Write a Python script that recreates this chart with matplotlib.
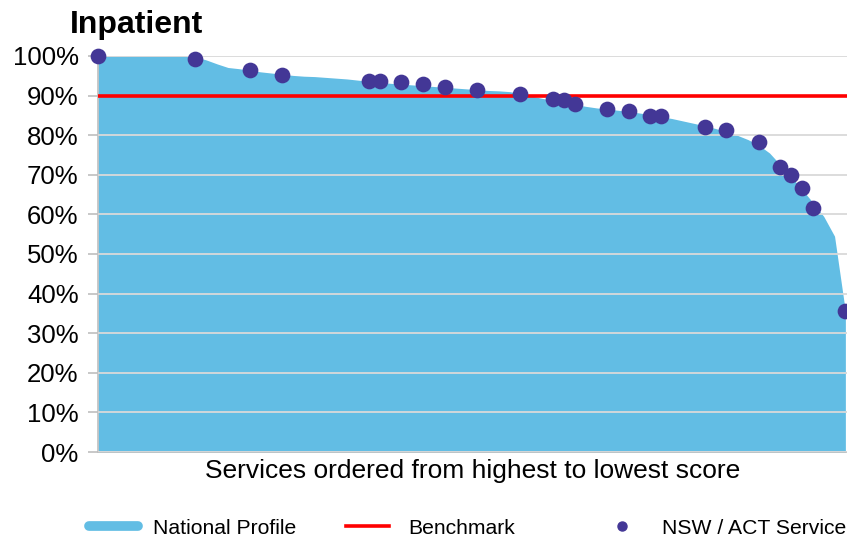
import matplotlib.pyplot as plt
from matplotlib.lines import Line2D
from matplotlib.ticker import PercentFormatter

plt.rcParams["font.family"] = ["Liberation Sans", "DejaVu Sans"]

# national profile: every service's score, ordered from highest to lowest
national_profile = [
    100.0, 100.0, 100.0, 100.0, 100.0, 100.0, 100.0, 100.0, 100.0, 99.8,
    99.0, 98.0, 97.1, 96.8, 96.4, 96.0, 95.7, 95.4, 95.1, 94.9,
    94.8, 94.6, 94.4, 94.2, 93.9, 93.6, 93.4, 93.1, 92.9, 92.7,
    92.5, 92.3, 92.1, 91.9, 91.7, 91.5, 91.3, 91.2, 91.0, 90.5,
    89.9, 89.3, 88.8, 88.3, 87.8, 87.3, 86.9, 86.6, 86.3, 86.0,
    85.6, 85.2, 84.7, 84.2, 83.6, 83.0, 82.4, 81.7, 80.9, 80.0,
    78.9, 77.5, 75.5, 72.5, 69.5, 66.3, 63.0, 59.5, 54.5, 35.5,
]

# NSW / ACT services: rank within the national profile and score
nsw_rank = [0, 9, 14, 17, 25, 26, 28, 30, 32, 35, 39, 42, 43, 44, 47, 49, 51,
            52, 56, 58, 61, 63, 64, 65, 66, 69]
nsw_score = [100.0, 99.2, 96.5, 95.2, 93.7, 93.7, 93.4, 92.9, 92.2, 91.4, 90.4,
             89.1, 88.9, 87.9, 86.6, 86.1, 84.8, 84.8, 82.1, 81.3, 78.3, 72.0,
             69.9, 66.7, 61.6, 35.6]

benchmark = 90
y_ticks = [0, 10, 20, 30, 40, 50, 60, 70, 80, 90, 100]

AREA = "#62BDE4"
DOT = "#433796"
RED = "#FF0000"
GRID = "#D9D9D9"

W, H = 847, 539
fig = plt.figure(figsize=(W / 100, H / 100), dpi=100)
ax = fig.add_axes([98 / W, (H - 452) / H, (W - 98) / W, 396 / H])

x = list(range(len(national_profile)))
ax.fill_between(x, national_profile, 0, color=AREA, lw=0, zorder=1)
ax.axhline(benchmark, color=RED, lw=2.6, zorder=3)
ax.scatter(nsw_rank, nsw_score, s=128, color=DOT, lw=0, zorder=4, clip_on=False)

ax.set_xlim(0, 69.15)
ax.set_ylim(0, 100)
ax.set_yticks(y_ticks)
ax.yaxis.set_major_formatter(PercentFormatter(xmax=100, decimals=0))
ax.set_xticks([])
ax.set_axisbelow(False)
ax.grid(axis="y", color=GRID, lw=1.3, zorder=2)
ax.tick_params(axis="y", labelsize=18.5, length=7, width=1.2, color="#BFBFBF", pad=7)
for side in ["top", "right"]:
    ax.spines[side].set_visible(False)
for side in ["left", "bottom"]:
    ax.spines[side].set_color("#BFBFBF")
    ax.spines[side].set_linewidth(1.2)

ax.set_xlabel("Services ordered from highest to lowest score", fontsize=19, labelpad=5)

fig.text(70 / W, (H - 33) / H, "Inpatient", fontsize=23, fontweight="bold",
         va="baseline", ha="left")

# legend: three fixed columns, like the original
entries = [
    (Line2D([], [], color=AREA, lw=7, solid_capstyle="round"), "National Profile", 89, 2.3, 0.75),
    (Line2D([], [], color=RED, lw=2.6), "Benchmark", 346, 2.05, 0.9),
    (Line2D([], [], color=DOT, lw=0, marker="o", markersize=6.5), "NSW / ACT Service", 602, 1.9, 0.95),
]
for handle, label, left, hlen, pad in entries:
    fig.legend([handle], [label], loc="center left", bbox_to_anchor=(left / W, (H - 528) / H),
               frameon=False, fontsize=15.2, borderpad=0, borderaxespad=0,
               handlelength=hlen, handletextpad=pad)

fig.savefig("out.png", dpi=100)
